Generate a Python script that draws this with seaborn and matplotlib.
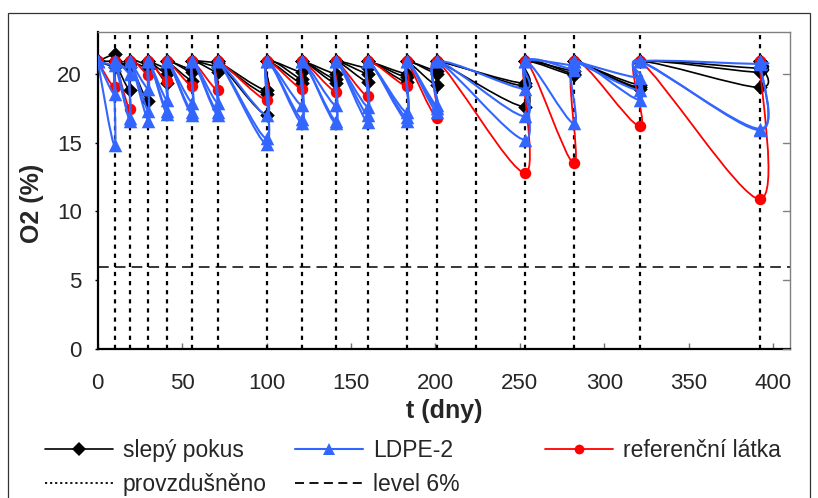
import numpy as np
import pandas as pd
import matplotlib
matplotlib.use("Agg")
import matplotlib.pyplot as plt
from matplotlib.path import Path
from matplotlib.patches import PathPatch, Rectangle
from matplotlib.lines import Line2D
import seaborn as sns

# --- data -----------------------------------------------------------------
# days on which O2 was measured (value just before re-aeration)
measure_days = [10, 19, 30, 41, 56, 71, 100, 121, 141, 160, 183, 201, 253, 282, 321, 392]
# days on which the bottles were aerated
aeration_days = [10, 19, 30, 41, 56, 71, 100, 121, 141, 160, 183, 201, 224, 253, 282, 321, 392]
start_o2 = 20.9      # O2 at t = 0
aerated_o2 = 20.9    # O2 right after aeration
level_o2 = 6.0

# slepý pokus (blank), three bottles
blank_1 = [21.4, 20.7, 18.0, 19.3, 20.1, 20.5, 18.8, 20.1, 20.0, 20.4, 20.0, 20.2, 19.3, 20.2, 19.2, 20.4]
blank_2 = [20.5, 18.8, 20.6, 20.4, 19.5, 20.1, 17.0, 19.6, 19.6, 20.0, 19.75, 19.15, 19.1, 19.9, 19.0, 20.1]
blank_3 = [20.9, 20.5, 20.4, 20.0, 20.3, 20.8, 18.5, 19.3, 19.3, 19.4, 19.4, 20.0, 17.6, 20.0, 18.9, 19.0]
# LDPE-2, three bottles
ldpe_1 = [18.5, 20.0, 18.9, 18.1, 17.9, 17.9, 17.0, 17.7, 17.7, 17.6, 17.2, 17.7, 18.9, 20.6, 19.7, 20.7]
ldpe_2 = [14.8, 16.6, 17.3, 17.3, 17.2, 17.2, 15.3, 16.7, 16.6, 17.0, 16.85, 17.5, 16.9, 20.3, 18.8, 16.0]
ldpe_3 = [20.6, 16.8, 16.6, 17.1, 17.0, 17.0, 14.9, 16.4, 16.4, 16.5, 16.6, 17.2, 15.2, 16.4, 18.1, 15.9]
# referenční látka
reference_1 = [19.0, 17.4, 19.9, 19.5, 19.1, 18.8, 18.1, 18.9, 18.7, 18.35, 19.1, 16.8, 12.8, 13.5, 16.2, 10.9]

series_names = ["slepý pokus", "LDPE-2", "referenční látka"]
series_bottles = {
    "slepý pokus": [blank_1, blank_2, blank_3],
    "LDPE-2": [ldpe_1, ldpe_2, ldpe_3],
    "referenční látka": [reference_1],
}
colors = {"slepý pokus": "#000000", "LDPE-2": "#3366FF", "referenční látka": "#FF0000"}
markers = {"slepý pokus": "D", "LDPE-2": "^", "referenční látka": "o"}
marker_area = {"slepý pokus": 55, "LDPE-2": 95, "referenční látka": 68}
line_widths = {"slepý pokus": 1.2, "LDPE-2": 1.5, "referenční látka": 1.3}
layer = {"slepý pokus": 3, "referenční látka": 4, "LDPE-2": 5}

# long table: each bottle runs 0 -> low -> aerated -> low -> aerated ...
rows = []
for name in series_names:
    for b, lows in enumerate(series_bottles[name]):
        k = 0
        rows.append((name, b, k, 0, start_o2)); k += 1
        for d, v in zip(measure_days, lows):
            rows.append((name, b, k, d, v)); k += 1
            rows.append((name, b, k, d, aerated_o2)); k += 1
df = pd.DataFrame(rows, columns=["série", "lahev", "poradi", "t", "O2"])


def smoothed_path(xs, ys):
    """Cubic Bezier path through the points (smoothed line, Catmull-Rom tangents)."""
    P = np.column_stack([xs, ys]).astype(float)
    n = len(P)
    verts = [P[0]]
    codes = [Path.MOVETO]
    for i in range(n - 1):
        p_prev = P[i - 1] if i > 0 else P[i]
        p_after = P[i + 2] if i + 2 < n else P[i + 1]
        c1 = P[i] + (P[i + 1] - p_prev) / 6.0
        c2 = P[i + 1] - (p_after - P[i]) / 6.0
        verts += [c1, c2, P[i + 1]]
        codes += [Path.CURVE4] * 3
    return Path(verts, codes)


# --- figure ---------------------------------------------------------------
sns.set_theme(style="white")
plt.rcParams["font.family"] = ["Liberation Sans", "DejaVu Sans"]

W, H = 818, 498
fig = plt.figure(figsize=(W / 100, H / 100), dpi=100)
ax_l, ax_r, ax_t, ax_b = 97.7, 790.0, 32.3, 349.3
ax = fig.add_axes([ax_l / W, 1 - ax_b / H, (ax_r - ax_l) / W, (ax_b - ax_t) / H])

# aeration lines and 6 % level
for d in aeration_days:
    ax.axvline(d, color="black", lw=1.6, linestyle=(0, (1.9, 2.2)), zorder=1)
ax.axhline(level_o2, color="black", lw=1.1, linestyle=(0, (7, 4)), zorder=1)

for name in series_names:
    sub = df[df["série"] == name]
    for b, grp in sub.groupby("lahev"):
        grp = grp.sort_values("poradi")
        patch = PathPatch(smoothed_path(grp["t"].values, grp["O2"].values),
                          facecolor="none", edgecolor=colors[name],
                          lw=line_widths[name], zorder=layer[name],
                          capstyle="round", joinstyle="round")
        ax.add_patch(patch)
    sns.scatterplot(data=sub, x="t", y="O2", color=colors[name], marker=markers[name],
                    s=marker_area[name], linewidth=0, ax=ax, zorder=layer[name] + 0.5,
                    legend=False)

ax.set_xlim(0, 410)
ax.set_ylim(0, 23)
ax.set_xticks(np.arange(0, 401, 50))
ax.set_yticks(np.arange(0, 21, 5))

ax.tick_params(axis="x", which="major", direction="in", length=4, width=1,
               color="#707070", labelsize=16, pad=17, bottom=True, top=False)
ax.tick_params(axis="y", which="major", direction="out", length=2.5, width=1,
               color="black", labelsize=16, pad=9, left=True)
ax.tick_params(axis="y", which="major", right=False, labelright=False)

for side in ["left", "bottom"]:
    ax.spines[side].set_color("black")
    ax.spines[side].set_linewidth(1.6)
for side in ["top", "right"]:
    ax.spines[side].set_color("#808080")
    ax.spines[side].set_linewidth(1.0)

# inward ticks on the right frame
for y in np.arange(0, 21, 5):
    ax.plot([1.0, 0.99], [y, y], transform=ax.get_yaxis_transform(),
            color="#808080", lw=1.0, zorder=6, clip_on=False)

ax.set_xlabel("t (dny)", fontsize=18, fontweight="bold")
ax.set_ylabel("O2 (%)", fontsize=18, fontweight="bold")
ax.xaxis.label.set_va("center")
ax.yaxis.label.set_va("center")
ax.xaxis.set_label_coords(0.5, (ax_b - 411) / (ax_b - ax_t))
ax.yaxis.set_label_coords((32 - ax_l) / (ax_r - ax_l), (ax_b - 203) / (ax_b - ax_t))

# legend below the plot, laid out in three columns
def handle(name):
    return Line2D([], [], color=colors[name], lw=line_widths[name], marker=markers[name],
                  markersize=7 if name != "LDPE-2" else 8.5, markeredgewidth=0)

h_aer = Line2D([], [], color="black", lw=1.3, linestyle=(0, (1.2, 1.6)))
h_lvl = Line2D([], [], color="black", lw=1.3, linestyle=(0, (5, 3)))
columns = [
    (45, [handle("slepý pokus"), h_aer], ["slepý pokus", "provzdušněno"]),
    (295, [handle("LDPE-2"), h_lvl], ["LDPE-2", "level 6%"]),
    (545, [handle("referenční látka")], ["referenční látka"]),
]
for x_px, hs, ls in columns:
    fig.legend(hs, ls, loc="upper left", bbox_to_anchor=(x_px / W, 1 - 439 / H),
               frameon=False, borderpad=0, borderaxespad=0, handlelength=2.95,
               handletextpad=0.45, labelspacing=0.5, fontsize=16.5, numpoints=1)

# chart-area frame
fig.patches.append(Rectangle((8 / W, -0.05), (810 - 8) / W, 1 - 12.7 / H + 0.05,
                             transform=fig.transFigure, fill=False,
                             edgecolor="#333333", lw=0.9))

fig.savefig("out.png", dpi=100)
